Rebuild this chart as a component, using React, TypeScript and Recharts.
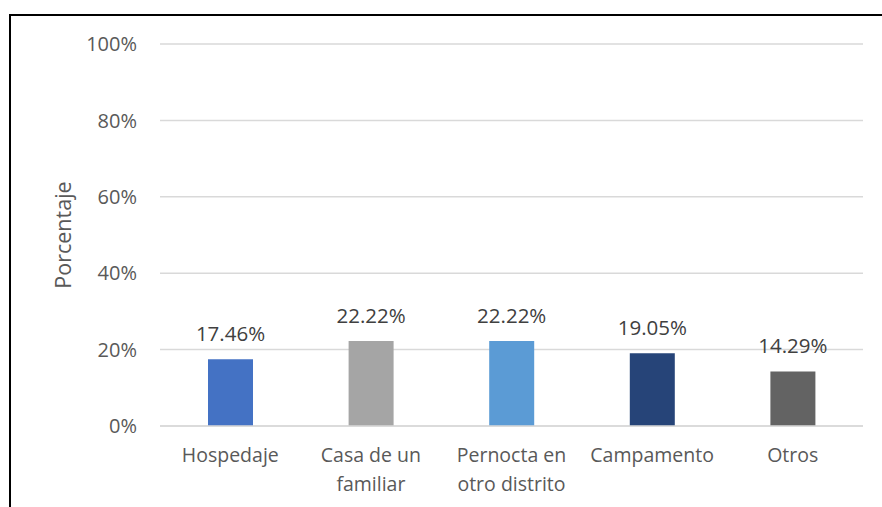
import { Bar, BarChart, CartesianGrid, Cell, LabelList, XAxis, YAxis } from "recharts";

const categories = ["Hospedaje", "Casa de un familiar", "Pernocta en otro distrito", "Campamento", "Otros"];
const percentages = [17.46, 22.22, 22.22, 19.05, 14.29];
const barColors = ["#4472c4", "#a5a5a5", "#5b9bd5", "#264478", "#636363"];
const yTicks = [0, 20, 40, 60, 80, 100];

const data = categories.map((name, i) => ({ name, value: percentages[i] }));

const FONT = "'Open Sans', sans-serif";

function wrap(label: string, max = 13) {
  const lines: string[] = [];
  let cur = "";
  for (const word of label.split(" ")) {
    const next = cur ? cur + " " + word : word;
    if (next.length > max && cur) {
      lines.push(cur);
      cur = word;
    } else {
      cur = next;
    }
  }
  if (cur) lines.push(cur);
  return lines;
}

function CategoryTick(props: any) {
  const { x, y, payload } = props;
  const lines = wrap(String(payload.value));
  return (
    <text x={x} y={y} textAnchor="middle" fill="#595959" fontSize={19.5} fontFamily={FONT}>
      {lines.map((line, i) => (
        <tspan key={i} x={x} y={y + 36 + i * 29}>
          {line}
        </tspan>
      ))}
    </text>
  );
}

export default function App() {
  return (
    <div style={{ position: "absolute", left: 0, top: 0, width: 882, height: 507, background: "#fff", overflow: "hidden" }}>
      <div
        style={{
          position: "absolute",
          left: 9,
          top: 14,
          width: 900,
          height: 520,
          borderTop: "2px solid #000",
          borderLeft: "2px solid #000",
        }}
      />
      <BarChart
        width={882}
        height={507}
        data={data}
        margin={{ top: 44, right: 19, left: 80, bottom: 11 }}
        style={{ position: "absolute", left: 0, top: 0 }}
      >
        <CartesianGrid vertical={false} stroke="#d9d9d9" strokeWidth={1.5} />
        <XAxis
          dataKey="name"
          height={70}
          tick={<CategoryTick />}
          tickLine={false}
          axisLine={{ stroke: "#d9d9d9", strokeWidth: 1.5 }}
          tickSize={0}
          tickMargin={0}
          interval={0}
        />
        <YAxis
          width={80}
          domain={[0, 100]}
          ticks={yTicks}
          tickFormatter={(v: number) => `${v}%`}
          axisLine={false}
          tickLine={false}
          tickSize={0}
          tickMargin={23}
          tick={{ fill: "#595959", fontSize: 20, fontFamily: FONT }}
          label={{
            value: "Porcentaje",
            angle: -90,
            position: "insideLeft",
            dx: -22,
            style: { fill: "#595959", fontSize: 21.5, fontFamily: FONT, textAnchor: "middle" },
          }}
        />
        <Bar dataKey="value" barSize={45} isAnimationActive={false}>
          {data.map((d, i) => (
            <Cell key={d.name} fill={barColors[i]} />
          ))}
          <LabelList
            dataKey="value"
            position="top"
            offset={18}
            formatter={(v: any) => `${Number(v).toFixed(2)}%`}
            style={{ fill: "#404040", fontSize: 20.5, fontFamily: FONT }}
          />
        </Bar>
      </BarChart>
    </div>
  );
}
